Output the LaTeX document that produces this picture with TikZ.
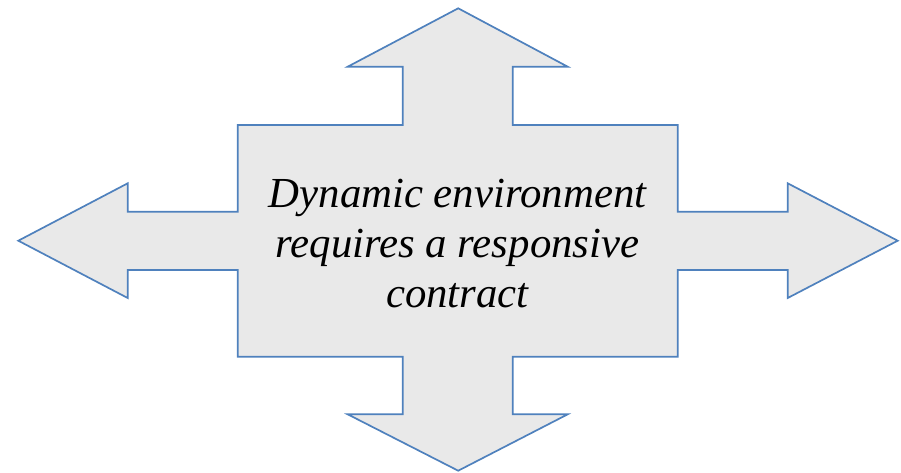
\documentclass[tikz,border=0pt]{standalone}
\usepackage{fontspec}
\setmainfont{Liberation Serif}
\usetikzlibrary{positioning}
\definecolor{arrowline}{RGB}{79,129,189}
\definecolor{arrowfill}{RGB}{233,233,233}
\tikzset{
    quadarrow/.style = {draw=arrowline, fill=arrowfill, line width=1.7pt, line join=miter},
    mytext/.style = {align=center, inner sep=0pt, text=black, font=\itshape\fontsize{42.8}{50}\selectfont}
}
\begin{document}
\begin{tikzpicture}[x=1pt,y=-1pt]
\useasboundingbox (0,0) rectangle (901,472);
%
\draw[quadarrow] (237.7,125) -- (402.7,125) -- (402.7,66.7) -- (347.7,66.7) -- (458.2,8.3)
    -- (567.7,66.7) -- (512.7,66.7) -- (512.7,125) -- (677.7,125)
    -- (677.7,211.7) -- (787.7,211.7) -- (787.7,183.3) -- (897.7,240.7) -- (787.7,298)
    -- (787.7,270) -- (677.7,270) -- (677.7,356.7)
    -- (512.7,356.7) -- (512.7,414.3) -- (567.7,414.3) -- (458.2,470.7) -- (347.7,414.3)
    -- (402.7,414.3) -- (402.7,356.7) -- (237.7,356.7)
    -- (237.7,270) -- (127.7,270) -- (127.7,298) -- (18.3,240.7) -- (127.7,183.3)
    -- (127.7,211.7) -- (237.7,211.7) -- cycle;
%
\node[mytext] at (457.5,243.5) (msg) {Dynamic environment\\requires a responsive\\contract};
\end{tikzpicture}
\end{document}
